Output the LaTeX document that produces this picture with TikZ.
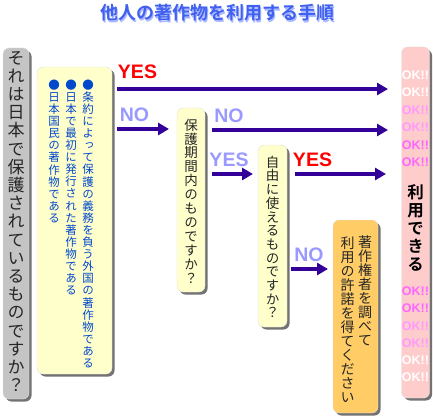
\documentclass[tikz,border=0pt]{standalone}
\usepackage{fontspec}
\setmainfont{Liberation Sans}
\newfontfamily\jp[RawFeature=+vert,BoldFont={Noto Sans CJK JP Bold}]{Noto Sans CJK JP}
\newfontfamily\jph[BoldFont={Noto Sans CJK JP Bold}]{Noto Sans CJK JP}
\usetikzlibrary{arrows.meta,shadows}
\definecolor{titleblue}{RGB}{64,96,240}
\definecolor{titleshadow}{RGB}{170,185,255}
\definecolor{arrowc}{RGB}{51,0,153}
\definecolor{yesred}{RGB}{255,0,0}
\definecolor{nolight}{RGB}{153,153,255}
\definecolor{grayfill}{RGB}{196,196,196}
\definecolor{yellowfill}{RGB}{255,255,204}
\definecolor{orangefill}{RGB}{255,204,102}
\definecolor{pinkfill}{RGB}{255,204,204}
\definecolor{oklight}{RGB}{255,153,255}
\definecolor{okmid}{RGB}{255,102,255}
\definecolor{bluetext}{RGB}{0,72,204}
\newcommand\tate[2]{\vbox{\baselineskip=#1\lineskiplimit=-100pt\lineskip=0pt\tateaux#2\relax}}
\def\tateaux#1{\ifx\relax#1\else\hbox to 1em{\hss#1\hss\vrule height .88em depth .12em width 0pt}\expandafter\tateaux\fi}
\begin{document}
\begin{tikzpicture}[x=1pt,y=-1pt,
  panel/.style={rounded corners=6pt, inner sep=0pt, draw=black!12,
    drop shadow={shadow xshift=2.5pt, shadow yshift=-2.5pt, fill=black, opacity=.55}},
  vt/.style={inner sep=0pt, anchor=center},
  flow/.style={line width=4pt, draw=arrowc, -{Triangle[length=11pt,width=12pt]}},
  lab/.style={inner sep=0pt, font=\bfseries\fontsize{19.5}{19.5}\selectfont},
  ok/.style={inner sep=0pt, font=\bfseries\fontsize{12.5}{12.5}\selectfont}]
\useasboundingbox (0,0) rectangle (433,417);
% title
\node[inner sep=0pt, text=titleshadow, font=\jph\bfseries\fontsize{18}{18}\selectfont] (titles) at (218.5,14.5) {他人の著作物を利用する手順};
\node[inner sep=0pt, text=titleblue, font=\jph\bfseries\fontsize{18}{18}\selectfont] (title) at (217,13) {他人の著作物を利用する手順};
% boxes
\node[panel, fill=grayfill, minimum width=26pt, minimum height=351pt] (gbox) at (16,223.5) {};
\node[panel, fill=yellowfill, minimum width=75pt, minimum height=307pt] (ybox) at (74.5,220.5) {};
\node[panel, fill=yellowfill, minimum width=28pt, minimum height=184pt] (pbox) at (191,200) {};
\node[panel, fill=yellowfill, minimum width=29pt, minimum height=182pt] (fbox) at (272.5,236) {};
\node[panel, fill=orangefill, minimum width=45pt, minimum height=193pt] (obox) at (355.5,316.5) {};
\node[panel, fill=pinkfill, minimum width=28pt, minimum height=351pt] (kbox) at (415.5,222.5) {};
% texts
\node[vt, font=\jp\fontsize{17}{17}\selectfont, text=black!85] (gtext) at (16,221.5) {\tate{18.2pt}{それは日本で保護されているものですか？}};
\node[vt, font=\jp\fontsize{11.5}{11.5}\selectfont, text=bluetext] (y1) at (88,224) {\tate{12.1pt}{●条約によって保護の義務を負う外国の著作物である}};
\node[vt, font=\jp\fontsize{11.5}{11.5}\selectfont, text=bluetext] (y2) at (71,187.5) {\tate{12.1pt}{●日本で最初に発行された著作物である}};
\node[vt, font=\jp\fontsize{11.5}{11.5}\selectfont, text=bluetext] (y3) at (54,151.5) {\tate{12.1pt}{●日本国民の著作物である}};
\node[vt, font=\jp\fontsize{13.5}{13.5}\selectfont, text=black!85] (ptext) at (191,201.5) {\tate{13.9pt}{保護期間内のものですか？}};
\node[vt, font=\jp\fontsize{13.5}{13.5}\selectfont, text=black!85] (ftext) at (272.5,237.5) {\tate{13.7pt}{自由に使えるものですか？}};
\node[vt, font=\jp\fontsize{14}{14}\selectfont, text=black!85] (o1) at (365,291) {\tate{14pt}{著作権者を調べて}};
\node[vt, font=\jp\fontsize{14}{14}\selectfont, text=black!85] (o2) at (347.5,320) {\tate{14pt}{利用の許諾を得てください}};
\node[vt, font=\jp\bfseries\fontsize{16.5}{16.5}\selectfont, text=black] (ktext) at (415.5,228.5) {\tate{18pt}{利用できる}};
% OK!!
\node[ok, text=white] (ok1) at (415.5,75) {OK!!};
\node[ok, text=white] (ok2) at (415.5,92) {OK!!};
\node[ok, text=oklight] (ok3) at (415.5,110) {OK!!};
\node[ok, text=oklight] (ok4) at (415.5,127) {OK!!};
\node[ok, text=okmid] (ok5) at (415.5,145) {OK!!};
\node[ok, text=okmid] (ok6) at (415.5,162) {OK!!};
\node[ok, text=okmid] (ok7) at (415.5,291) {OK!!};
\node[ok, text=okmid] (ok8) at (415.5,308) {OK!!};
\node[ok, text=oklight] (ok9) at (415.5,326) {OK!!};
\node[ok, text=oklight] (ok10) at (415.5,343) {OK!!};
\node[ok, text=white] (ok11) at (415.5,360) {OK!!};
\node[ok, text=white] (ok12) at (415.5,377) {OK!!};
% labels
\node[lab, text=yesred] (yes1) at (137.5,72) {YES};
\node[lab, text=nolight] (no1) at (134.5,115) {NO};
\node[lab, text=nolight] (no2) at (229,115.5) {NO};
\node[lab, text=nolight] (yes2) at (229,159.5) {YES};
\node[lab, text=yesred] (yes3) at (312.5,159.5) {YES};
\node[lab, text=nolight] (no3) at (309,254.5) {NO};
% arrows
\coordinate (a1s) at (117,89); \coordinate (a1e) at (388,89);
\coordinate (a2s) at (117,129); \coordinate (a2e) at (169,129);
\coordinate (a3s) at (212,130); \coordinate (a3e) at (388,130);
\coordinate (a4s) at (212,174); \coordinate (a4e) at (253,174);
\coordinate (a5s) at (295,174); \coordinate (a5e) at (386,174);
\coordinate (a6s) at (291,269); \coordinate (a6e) at (328,269);
\draw[flow] (a1s) -- (a1e);
\draw[flow] (a2s) -- (a2e);
\draw[flow] (a3s) -- (a3e);
\draw[flow] (a4s) -- (a4e);
\draw[flow] (a5s) -- (a5e);
\draw[flow] (a6s) -- (a6e);
\end{tikzpicture}
\end{document}
